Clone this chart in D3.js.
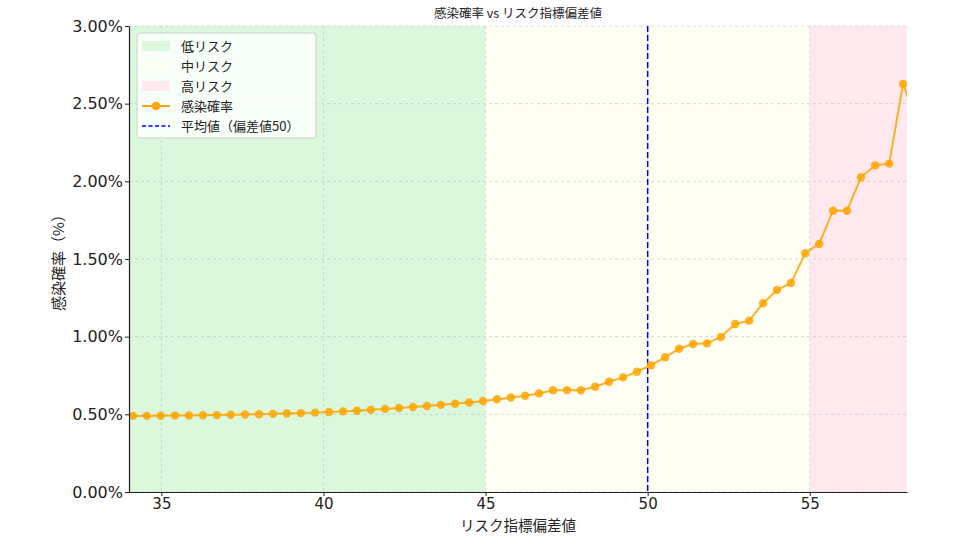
<!DOCTYPE html>
<html><head><meta charset="utf-8">
<script src="https://cdn.jsdelivr.net/npm/d3@7"></script>
<style>
body{margin:0;background:#fff;}
svg{display:block;}
</style></head>
<body>
<svg id="chart" width="961" height="541"></svg>
<script>
const deviation = [34.12,34.55,34.98,35.42,35.85,36.28,36.71,37.14,37.58,38.01,38.44,38.87,39.30,39.74,40.17,40.60,41.03,41.46,41.90,42.33,42.76,43.19,43.62,44.06,44.49,44.92,45.35,45.78,46.22,46.65,47.08,47.51,47.94,48.38,48.81,49.24,49.67,50.10,50.54,50.97,51.40,51.83,52.26,52.70,53.13,53.56,53.99,54.42,54.86,55.29,55.72,56.15,56.58,57.02,57.45,57.88,58.31];
const infectionRate = [0.490,0.490,0.491,0.492,0.493,0.494,0.495,0.497,0.499,0.501,0.503,0.505,0.508,0.511,0.515,0.519,0.523,0.529,0.535,0.541,0.547,0.554,0.561,0.568,0.576,0.586,0.597,0.608,0.620,0.635,0.655,0.656,0.655,0.678,0.710,0.738,0.774,0.816,0.868,0.922,0.953,0.957,0.998,1.082,1.103,1.215,1.300,1.346,1.537,1.597,1.811,1.811,2.026,2.103,2.114,2.627,2.380];
const xTicks = [35,40,45,50,55];
const yTicks = [0,0.5,1.0,1.5,2.0,2.5,3.0];
const zones = [
  {label:"低リスク", from:34, to:45, color:"#dbf8dc"},
  {label:"中リスク", from:45, to:55, color:"#fefef3"},
  {label:"高リスク", from:55, to:58, color:"#ffe9ee"}
];
const meanValue = 50;
const title = "感染確率 vs リスク指標偏差値";
const xLabel = "リスク指標偏差値";
const yLabel = "感染確率（%）";
const seriesLabel = "感染確率";
const meanLabel = "平均値（偏差値50）";

const svg = d3.select("#chart");
const L=129,R=907,T=26,B=492;
const x = d3.scaleLinear().domain([34,58]).range([L,R]);
const y = d3.scaleLinear().domain([0,3]).range([B,T]);
const jp = "'Noto Sans CJK JP','Noto Sans',sans-serif";
const num = "'DejaVu Sans',sans-serif";

svg.append("defs").append("clipPath").attr("id","clip")
  .append("rect").attr("x",L).attr("y",T-5).attr("width",R-L).attr("height",B-T+5);

// zones
svg.selectAll("rect.zone").data(zones).enter().append("rect")
  .attr("x",d=>x(d.from)).attr("width",d=>x(d.to)-x(d.from))
  .attr("y",T).attr("height",B-T).attr("fill",d=>d.color);

// grid
const grid = svg.append("g");
grid.selectAll("line.gx").data(xTicks).enter().append("line")
  .attr("x1",d=>x(d)).attr("x2",d=>x(d)).attr("y1",T).attr("y2",B)
  .attr("stroke","#b0b0b0").attr("stroke-opacity",0.6).attr("stroke-width",0.8).attr("stroke-dasharray","3,3");
grid.selectAll("line.gy").data(yTicks).enter().append("line")
  .attr("y1",d=>y(d)).attr("y2",d=>y(d)).attr("x1",L).attr("x2",R)
  .attr("stroke","#b0b0b0").attr("stroke-opacity",0.6).attr("stroke-width",0.8).attr("stroke-dasharray","3,3");

// mean line
svg.append("line").attr("x1",x(meanValue)).attr("x2",x(meanValue)).attr("y1",T).attr("y2",B)
  .attr("stroke","#0000ff").attr("stroke-width",1.5).attr("stroke-dasharray","6,3");

// series
const pts = deviation.map((d,i)=>[d,infectionRate[i]]);
const g = svg.append("g").attr("clip-path","url(#clip)");
g.append("path").datum(pts)
  .attr("d",d3.line().x(d=>x(d[0])).y(d=>y(d[1])))
  .attr("fill","none").attr("stroke","#ffa500").attr("stroke-width",2).attr("stroke-opacity",0.85);
g.selectAll("circle").data(pts).enter().append("circle")
  .attr("cx",d=>x(d[0])).attr("cy",d=>y(d[1])).attr("r",4.2)
  .attr("fill","#ffa500").attr("fill-opacity",0.85);

// axes
const xAxis = svg.append("g").attr("transform",`translate(0,${B})`)
  .call(d3.axisBottom(x).tickValues(xTicks).tickFormat(d3.format("d")).tickSize(4).tickSizeOuter(0));
const yAxis = svg.append("g").attr("transform",`translate(${L},0)`)
  .call(d3.axisLeft(y).tickValues(yTicks).tickFormat(d=>d.toFixed(2)+"%").tickSize(4).tickSizeOuter(0));
[xAxis,yAxis].forEach(a=>{
  a.select(".domain").attr("stroke","#222").attr("stroke-width",1.2);
  a.selectAll(".tick line").attr("stroke","#222");
  a.selectAll(".tick text").attr("font-family",num).attr("font-size",16).attr("fill","#222");
});
xAxis.selectAll(".tick text").attr("font-size",15).attr("y",5).attr("dy","0.8em");
yAxis.selectAll(".tick text").attr("x",-6);

// title & labels
svg.append("text").attr("x",(L+R)/2).attr("y",18).attr("text-anchor","middle")
  .attr("font-family",jp).attr("font-size",12.5).attr("fill","#222").text(title);
svg.append("text").attr("x",(L+R)/2).attr("y",531).attr("text-anchor","middle")
  .attr("font-family",jp).attr("font-size",14.5).attr("fill","#222").text(xLabel);
svg.append("text").attr("transform",`translate(64,${(T+B)/2}) rotate(-90)`).attr("text-anchor","middle")
  .attr("font-family",jp).attr("font-size",15).attr("fill","#222").text(yLabel);

// legend
const lg = svg.append("g").attr("transform","translate(137,33)");
lg.append("rect").attr("width",179).attr("height",105).attr("rx",3)
  .attr("fill","#fff").attr("fill-opacity",0.8).attr("stroke","#d0d0d0");
const rows = [
  ...zones.map(z=>({type:"patch",color:z.color,label:z.label})),
  {type:"series",label:seriesLabel},
  {type:"mean",label:meanLabel}
];
const rowY = i=>13+i*20;
rows.forEach((r,i)=>{
  const cy=rowY(i);
  if(r.type==="patch"){
    lg.append("rect").attr("x",5).attr("y",cy-5).attr("width",28).attr("height",10).attr("fill",r.color);
  } else if(r.type==="series"){
    lg.append("line").attr("x1",5).attr("x2",33).attr("y1",cy).attr("y2",cy).attr("stroke","#ffa500").attr("stroke-width",2);
    lg.append("circle").attr("cx",19).attr("cy",cy).attr("r",4.2).attr("fill","#ffa500");
  } else {
    lg.append("line").attr("x1",5).attr("x2",33).attr("y1",cy).attr("y2",cy).attr("stroke","#0000ff").attr("stroke-width",1.5).attr("stroke-dasharray","4,2.5");
  }
  lg.append("text").attr("x",44).attr("y",cy).attr("dy","0.35em")
    .attr("font-family",jp).attr("font-size",13).attr("fill","#222").text(r.label);
});
</script>
</body></html>
